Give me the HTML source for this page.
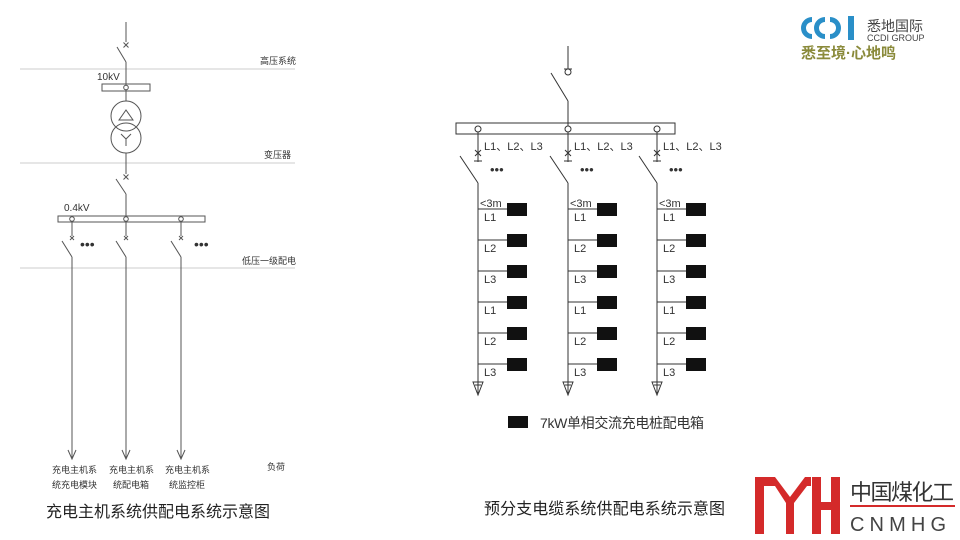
<!DOCTYPE html>
<html><head><meta charset="utf-8"><style>
html,body{margin:0;padding:0;background:#fff;}
svg{display:block;}
text{font-family:"Liberation Sans","Noto Sans CJK SC",sans-serif;}
</style></head><body>
<svg width="960" height="540" viewBox="0 0 960 540" xmlns="http://www.w3.org/2000/svg">
<g stroke="#555" stroke-width="1" fill="none">
<line x1="20" y1="69" x2="295" y2="69" stroke="#ccc"/>
<line x1="20" y1="163" x2="295" y2="163" stroke="#ccc"/>
<line x1="20" y1="268" x2="295" y2="268" stroke="#ccc"/>
<line x1="126" y1="22" x2="126" y2="42"/>
<path d="M123.5 42.5l5 5M128.5 42.5l-5 5"/>
<line x1="117" y1="47" x2="126" y2="62"/>
<line x1="126" y1="62" x2="126" y2="87"/>
<rect x="102" y="84" width="48" height="7"/>
<circle cx="126" cy="87.5" r="2.3" fill="#fff"/>
<line x1="126" y1="90" x2="126" y2="101"/>
<circle cx="126" cy="116" r="15"/>
<circle cx="126" cy="138" r="15"/>
<path d="M119 120h14l-7-10z"/>
<path d="M121 134l5 5 5-5M126 139v7"/>
<line x1="126" y1="153" x2="126" y2="174"/>
<path d="M123.5 174.5l5 5M128.5 174.5l-5 5"/>
<line x1="116" y1="179" x2="126" y2="194"/>
<line x1="126" y1="194" x2="126" y2="219"/>
<rect x="58" y="216" width="147" height="6"/>
<circle cx="72" cy="219" r="2.3" fill="#fff"/>
<circle cx="126" cy="219" r="2.3" fill="#fff"/>
<circle cx="181" cy="219" r="2.3" fill="#fff"/>
<g>
<line x1="72" y1="221" x2="72" y2="236"/><path d="M70 236l4 4M74 236l-4 4"/>
<line x1="62" y1="241" x2="72" y2="257"/><line x1="72" y1="257" x2="72" y2="458"/>
<line x1="126" y1="221" x2="126" y2="236"/><path d="M124 236l4 4M128 236l-4 4"/>
<line x1="116" y1="241" x2="126" y2="257"/><line x1="126" y1="257" x2="126" y2="458"/>
<line x1="181" y1="221" x2="181" y2="236"/><path d="M179 236l4 4M183 236l-4 4"/>
<line x1="171" y1="241" x2="181" y2="257"/><line x1="181" y1="257" x2="181" y2="458"/>
<path d="M68 450l4 9 4-9M122 450l4 9 4-9M177 450l4 9 4-9"/>
</g>
</g>
<g fill="#333" font-size="10">
<text x="97" y="80">10kV</text>
<text x="64" y="211">0.4kV</text>
<text x="260" y="64" font-size="9">高压系统</text>
<text x="264" y="158" font-size="9">变压器</text>
<text x="242" y="264" font-size="9">低压一级配电</text>
<text x="267" y="470" font-size="9">负荷</text>
<text x="52" y="473" font-size="9">充电主机系</text>
<text x="52" y="488" font-size="9">统充电模块</text>
<text x="109" y="473" font-size="9">充电主机系</text>
<text x="113" y="488" font-size="9">统配电箱</text>
<text x="165" y="473" font-size="9">充电主机系</text>
<text x="169" y="488" font-size="9">统监控柜</text>
</g>
<g fill="#333" font-size="14">
<text x="80" y="249">•••</text><text x="194" y="249">•••</text>
</g>
<text x="46" y="517" font-size="16" fill="#222" textLength="224">充电主机系统供配电系统示意图</text>

<g stroke="#333" stroke-width="1" fill="none">
<line x1="568" y1="46" x2="568" y2="69"/>
<circle cx="568" cy="72" r="3"/>
<line x1="564" y1="69" x2="572" y2="69"/>
<line x1="551" y1="73" x2="568" y2="101"/>
<line x1="568" y1="101" x2="568" y2="126"/>
<rect x="456" y="123" width="219" height="11"/>
</g>
<g stroke="#333" stroke-width="1" fill="none">
<circle cx="478" cy="129" r="3" fill="#fff"/>
<circle cx="568" cy="129" r="3" fill="#fff"/>
<circle cx="657" cy="129" r="3" fill="#fff"/>
</g>
<g id="col1" stroke="#333" fill="none">
<line x1="478" y1="132" x2="478" y2="162"/>
<path d="M475 150l6 6M481 150l-6 6M474 161h8"/>
<line x1="460" y1="156" x2="478" y2="183"/>
<line x1="478" y1="183" x2="478" y2="393"/>
<path d="M473 382l5 13 5-13zM475 385h6"/>
<line x1="478" y1="209" x2="507" y2="209"/><line x1="478" y1="240" x2="507" y2="240"/><line x1="478" y1="271" x2="507" y2="271"/><line x1="478" y1="302" x2="507" y2="302"/><line x1="478" y1="333" x2="507" y2="333"/><line x1="478" y1="364" x2="507" y2="364"/>
</g>
<use href="#col1" x="90"/>
<use href="#col1" x="179"/>
<g id="box1" fill="#111">
<rect x="507" y="203" width="20" height="13"/><rect x="507" y="234" width="20" height="13"/><rect x="507" y="265" width="20" height="13"/><rect x="507" y="296" width="20" height="13"/><rect x="507" y="327" width="20" height="13"/><rect x="507" y="358" width="20" height="13"/>
</g>
<use href="#box1" x="90"/>
<use href="#box1" x="179"/>
<g id="lab1" fill="#333" font-size="11">
<text x="484" y="150">L1、L2、L3</text>
<text x="480" y="207">&lt;3m</text>
<text x="484" y="221">L1</text><text x="484" y="252">L2</text><text x="484" y="283">L3</text><text x="484" y="314">L1</text><text x="484" y="345">L2</text><text x="484" y="376">L3</text>
<text x="490" y="174" font-size="13">•••</text>
</g>
<use href="#lab1" x="90"/>
<use href="#lab1" x="179"/>
<rect x="508" y="416" width="20" height="12" fill="#111"/>
<text x="540" y="428" font-size="14" fill="#333" textLength="164">7kW单相交流充电桩配电箱</text>
<text x="484" y="514" font-size="16" fill="#222" textLength="241">预分支电缆系统供配电系统示意图</text>

<g fill="#2a8fc8">
<path d="M812 17a11 11 0 0 0 0 22v-5a6 6 0 0 1 0-12z"/>
<path d="M825 17a11 11 0 0 0 0 22v-5a6 6 0 0 1 0-12z"/>
<path d="M830 17a11 11 0 0 1 0 22v-5a6 6 0 0 0 0-12z"/>
<rect x="848" y="16" width="6" height="24"/>
</g>
<text x="867" y="31" font-size="14" fill="#444">悉地国际</text>
<text x="867" y="41" font-size="9" fill="#444">CCDI GROUP</text>
<text x="801" y="58" font-size="15" fill="#8a8a3a" font-weight="bold">悉至境·心地鸣</text>

<g fill="#d42a2a">
<rect x="755" y="477" width="9" height="57"/>
<path d="M755 477h20l15 20 15-20h6v9h-4l-13 17v31h-8v-31l-11-17h-11z"/>
<rect x="812" y="477" width="9" height="57"/>
<rect x="831" y="477" width="9" height="57"/>
<rect x="812" y="502" width="28" height="8"/>
<rect x="850" y="505" width="105" height="2"/>
</g>
<text x="850" y="500" font-size="22" fill="#333" textLength="104">中国煤化工</text>
<text x="850" y="531" font-size="20" fill="#444" textLength="104" letter-spacing="8">CNMHG</text>
</svg>
</body></html>
